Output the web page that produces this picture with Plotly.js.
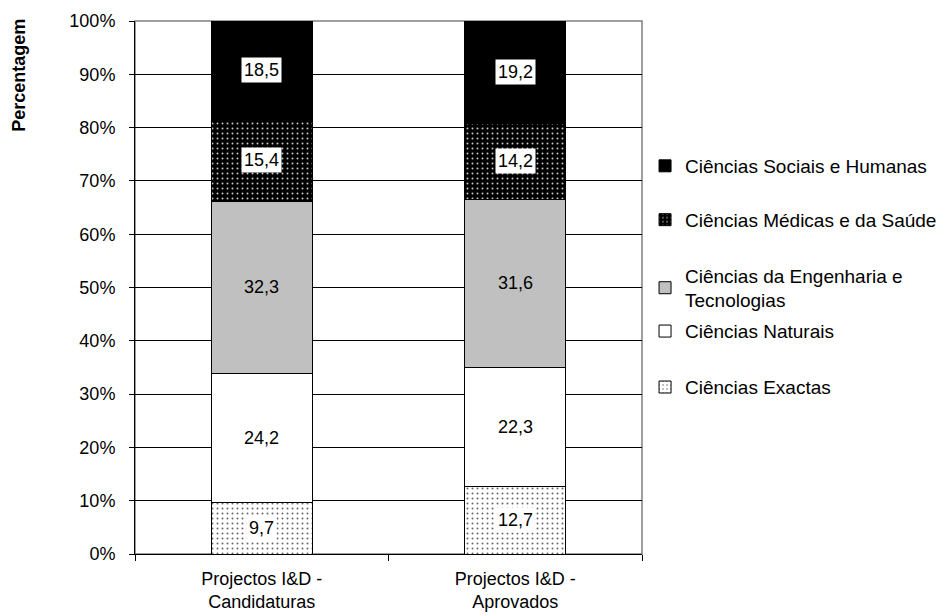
<!DOCTYPE html>
<html>
<head>
<meta charset="utf-8">
<script src="https://cdn.plot.ly/plotly-3.0.1.min.js"></script>
<style>
  html, body { margin: 0; padding: 0; background: #ffffff; }
  #chart { width: 946px; height: 616px; }
</style>
</head>
<body>
<div id="chart"></div>
<script>
// Distribution of R&D projects by scientific area (%)
const categories = ["Projectos I&D -<br>Candidaturas", "Projectos I&D -<br>Aprovados"];

const exactas    = [9.7, 12.7];
const naturais   = [24.2, 22.3];
const engenharia = [32.3, 31.6];
const medicas    = [15.4, 14.2];
const sociais    = [18.5, 19.2];

const seriesNames = [
  "Ciências Exactas",
  "Ciências Naturais",
  "Ciências da Engenharia e<br>Tecnologias",
  "Ciências Médicas e da Saúde",
  "Ciências Sociais e Humanas"
];

const yTickVals = [0, 10, 20, 30, 40, 50, 60, 70, 80, 90, 100];
const yTickText = ["0%", "10%", "20%", "30%", "40%", "50%", "60%", "70%", "80%", "90%", "100%"];

const FONT = "Liberation Sans, Arial, sans-serif";
const series = [exactas, naturais, engenharia, medicas, sociais];

const styles = [
  { color: "#ffffff", pattern: { shape: ".", fgcolor: "#666666", bgcolor: "#ffffff", size: 5, solidity: 0.12, fillmode: "replace" } },
  { color: "#ffffff" },
  { color: "#c0c0c0" },
  { color: "#000000", pattern: { shape: ".", fgcolor: "#c8c8c8", bgcolor: "#000000", size: 5, solidity: 0.12, fillmode: "replace" } },
  { color: "#000000" }
];

// one legend per series so each entry can sit at its own height
const legendIds = ["legend5", "legend4", "legend3", "legend2", "legend"];
const legendY = [0.313, 0.418, 0.499, 0.627, 0.728];

const traces = series.map((vals, i) => {
  const marker = { color: styles[i].color, line: { color: "#000000", width: 1 } };
  if (styles[i].pattern) marker.pattern = styles[i].pattern;
  return {
    type: "bar",
    name: seriesNames[i],
    x: categories,
    y: vals,
    marker: marker,
    legend: legendIds[i],
    hoverinfo: "skip"
  };
});

// value labels centred in each segment
const boxed = [true, false, false, true, true];
const annotations = [];
categories.forEach((cat, c) => {
  let base = 0;
  series.forEach((vals, i) => {
    const v = vals[c];
    annotations.push({
      x: cat, y: base + v / 2, xref: "x", yref: "y",
      text: v.toFixed(1).replace(".", ","),
      showarrow: false,
      font: { family: FONT, size: 18, color: "#000000" },
      bgcolor: boxed[i] ? "#ffffff" : "rgba(0,0,0,0)",
      borderpad: 2
    });
    base += v;
  });
});

annotations.push({
  text: "<b>Percentagem</b>",
  xref: "paper", yref: "paper",
  x: -0.2288, y: 0.899,
  xanchor: "center", yanchor: "middle",
  textangle: -90, showarrow: false,
  font: { family: FONT, size: 18, color: "#000000" }
});

const legendBase = {
  x: 1.006, xanchor: "left", yanchor: "middle",
  bgcolor: "rgba(0,0,0,0)", borderwidth: 0,
  font: { family: FONT, size: 19, color: "#000000" }
};

const layout = {
  width: 946, height: 616,
  margin: { l: 135, r: 304, t: 21, b: 62, autoexpand: false },
  paper_bgcolor: "#ffffff",
  plot_bgcolor: "#ffffff",
  barmode: "stack",
  bargap: 0.6,
  font: { family: FONT, size: 18, color: "#000000" },
  xaxis: {
    type: "category",
    tickson: "boundaries",
    ticks: "outside", ticklen: 6, tickcolor: "#000000", tickwidth: 1,
    showline: true, linecolor: "#000000", linewidth: 1,
    showgrid: false,
    ticklabelstandoff: 8,
    tickfont: { family: FONT, size: 18, color: "#000000" },
    fixedrange: true
  },
  yaxis: {
    range: [0, 100],
    tickvals: yTickVals, ticktext: yTickText,
    ticks: "outside", ticklen: 5, tickcolor: "#000000", tickwidth: 1,
    showline: true, linecolor: "#000000", linewidth: 1,
    showgrid: true, gridcolor: "#000000", gridwidth: 1,
    zeroline: false,
    ticklabelstandoff: 10,
    tickfont: { family: FONT, size: 18, color: "#000000" },
    fixedrange: true
  },
  shapes: [{
    type: "rect", xref: "paper", yref: "paper",
    x0: 0, x1: 1, y0: 0, y1: 1,
    line: { color: "#808080", width: 1.5 },
    fillcolor: "rgba(0,0,0,0)",
    layer: "between"
  }],
  annotations: annotations,
  showlegend: true
};

legendIds.forEach((id, i) => {
  layout[id] = Object.assign({}, legendBase, { y: legendY[i] });
});

Plotly.newPlot("chart", traces, layout, { displayModeBar: false, staticPlot: true });
</script>
</body>
</html>
